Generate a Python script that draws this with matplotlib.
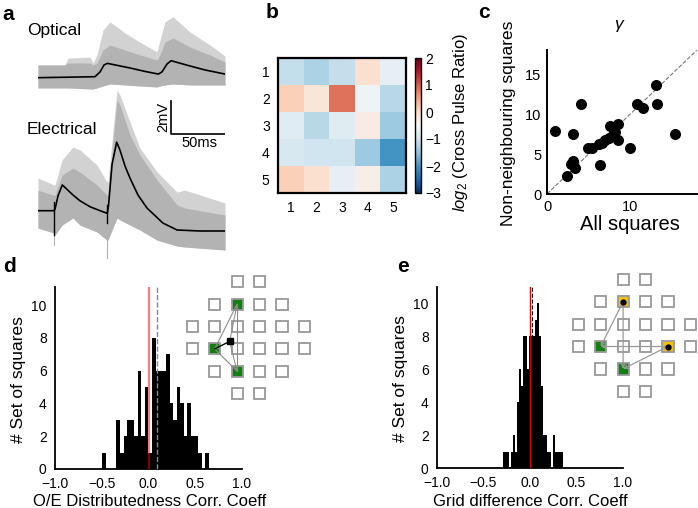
import numpy as np
import matplotlib
matplotlib.use('Agg')
import matplotlib.pyplot as plt
from matplotlib.patches import Rectangle
from matplotlib.ticker import FuncFormatter

plt.rcParams['font.family'] = ['Liberation Sans', 'DejaVu Sans']
plt.rcParams['mathtext.fontset'] = 'custom'
plt.rcParams['mathtext.rm'] = 'Liberation Sans'
plt.rcParams['mathtext.it'] = 'Liberation Sans:italic'

# ---------------- data ----------------
# panel a: optical traces (time in ms, voltage in mV relative to baseline)
opt_env_t = [0, 24.5, 27.3, 47.3, 50, 53.6, 59.1, 65.5, 79.1, 92.7, 108.2, 110.9, 115.4, 122.7, 138.2, 156.4, 170]
opt_hi = [0.77, 0.77, 1.19, 1.25, 0.89, 1.38, 2.89, 3.38, 2.71, 2.16, 1.56, 2.28, 3.38, 3.69, 2.77, 1.98, 1.32]
opt_core = [0.77, 0.77, 0.89, 0.89, 0.77, 0.89, 1.68, 1.98, 1.68, 1.38, 1.07, 1.38, 2.16, 2.41, 1.86, 1.38, 0.95]
opt_lo = [-0.62, -0.62, -0.62, -0.68, -0.68, -0.62, -0.5, -0.38, -0.44, -0.5, -0.56, -0.5, -0.44, -0.38, -0.44, -0.44, -0.44]
opt_mean_t = [0, 51.8, 56.4, 60.0, 63.0, 83.6, 97.3, 109.4, 112.7, 117.3, 121.0, 138.2, 151.8, 170]
opt_mean = [0.0, 0.06, 0.35, 0.77, 0.87, 0.59, 0.38, 0.22, 0.35, 0.83, 1.03, 0.71, 0.47, 0.22]

# panel a: electrical traces
ele_env_t = [0, 14.5, 15.5, 21.8, 31.8, 38.2, 53.6, 62.7, 63.6, 71.8, 74.5, 83.6, 92.7, 108.2, 126.4, 133.6, 170]
ele_hi = [1.98, 1.56, 1.56, 3.07, 3.86, 3.68, 2.77, 1.74, 1.74, 7.31, 7.01, 5.38, 3.80, 2.35, 1.13, 1.25, 0.47]
ele_core = [1.24, 0.94, 0.94, 2.16, 2.58, 2.34, 1.56, 0.94, 0.94, 6.71, 6.40, 4.59, 3.38, 1.86, 0.35, 0.16, -0.26]
ele_lo = [-1.05, -1.35, -1.47, -0.87, -0.44, -0.87, -1.29, -1.78, -1.78, -0.44, -0.56, -0.87, -1.17, -1.78, -2.14, -2.20, -2.38]
ele_mean_t = [0, 14.5, 15.5, 18.2, 22.1, 25.5, 31.8, 38.2, 47.3, 56.4, 63.0, 64.1, 67.3, 71.5, 74.5, 79.1, 83.6, 90.9, 99.1, 113.6, 126.4, 147.3, 170]
ele_mean = [0, 0, 0.1, 0.9, 1.56, 1.35, 0.95, 0.6, 0.24, 0.0, -0.16, 0.3, 2.8, 4.15, 3.68, 2.71, 1.98, 0.95, 0.16, -0.75, -1.17, -1.23, -1.23]
stim_t = [14.5, 63.0]
stim_black = [(0.55, -1.47), (0.35, -0.75)]
stim_gray = [(-1.47, -2.08), (-0.75, -2.87)]

# panel b: log2 cross pulse ratio (rows 1-5, cols 1-5)
ratio = np.array([
    [-1.1, -1.3, -1.1, -0.1, -0.7],
    [0.1, -0.2, 0.85, -0.6, -1.2],
    [-0.8, -1.2, -0.8, -0.3, -1.4],
    [-0.9, -1.0, -1.0, -1.4, -2.0],
    [0.1, -0.1, -0.7, -0.35, -1.3],
])
grid_labels = ['1', '2', '3', '4', '5']

# panel c: gamma, all squares vs non-neighbouring squares
c_all = [1.0, 3.1, 4.1, 2.4, 3.1, 2.9, 3.4, 4.9, 5.4, 6.2, 6.3, 6.6, 7.0, 7.4, 7.6, 7.9, 8.2, 8.5, 8.5, 9.9, 10.8, 11.5, 13.2, 13.1, 15.3]
c_nonn = [7.9, 7.5, 11.2, 2.3, 4.1, 3.75, 3.3, 5.8, 5.7, 6.2, 3.6, 6.4, 6.7, 7.0, 8.5, 7.4, 7.8, 8.75, 6.7, 5.8, 11.2, 10.8, 11.2, 13.6, 7.5]

# panel d: histogram of O/E distributedness correlation coefficients
d_range = (-0.495, 0.645)
d_counts = [1, 0, 0, 0, 3, 1, 2, 3, 3, 2, 6, 2, 5, 1, 8, 6, 6, 6, 7, 4, 3, 5, 4, 2, 4, 2, 2, 1, 0, 1]
d_mean = 0.09

# panel e: histogram of grid difference correlation coefficients
e_range = (-0.295, 0.355)
e_counts = [1, 1, 1, 0, 1, 2, 1, 4, 6, 5, 8, 8, 6, 8, 8, 8, 9, 10, 8, 5, 2, 2, 1, 1, 0, 2, 1, 1, 1, 1]
e_mean = 0.018

hist_xticks = [-1.0, -0.5, 0.0, 0.5, 1.0]
hist_yticks = [0, 2, 4, 6, 8, 10]

# stimulation grid layout (row: first column, number of squares)
grid_rows = [(2, 2), (1, 4), (0, 6), (0, 6), (1, 4), (2, 2)]
d_green = [(1, 2), (3, 1), (4, 2)]
e_yellow = [(1, 2), (3, 4)]
e_green = [(3, 1), (4, 2)]

# ---------------- figure ----------------
W, H = 698, 508
fig = plt.figure(figsize=(W / 100, H / 100), dpi=100)


def px_axes(l, t, w, h):
    return fig.add_axes([l / W, 1 - (t + h) / H, w / W, h / H])


def ftext(x, y, s, **kw):
    return fig.text(x / W, 1 - y / H, s, **kw)


GRAY = '#b3b3b3'
LIGHT = '#d2d2d2'

# ---- panel a ----
axa = px_axes(38, 10, 187, 250)
axa.set_xlim(0, 170)
axa.set_ylim(0, 250 * 2 / 33)
axa.axis('off')
off_o = (260 - 77.7) * 2 / 33
off_e = (260 - 210.7) * 2 / 33
axa.fill_between(opt_env_t, np.array(opt_lo) + off_o, np.array(opt_hi) + off_o,
                 color=LIGHT, lw=0)
axa.fill_between(opt_env_t, np.array(opt_lo) + off_o, np.array(opt_core) + off_o,
                 color=GRAY, lw=0)
axa.plot(opt_mean_t, np.array(opt_mean) + off_o, color='k', lw=1.2)
axa.fill_between(ele_env_t, np.array(ele_lo) + off_e, np.array(ele_hi) + off_e,
                 color=LIGHT, lw=0)
axa.fill_between(ele_env_t, np.array(ele_lo) + off_e, np.array(ele_core) + off_e,
                 color=GRAY, lw=0)
for t, (b0, b1), (g0, g1) in zip(stim_t, stim_black, stim_gray):
    axa.plot([t, t], [g0 + off_e, g1 + off_e], color=GRAY, lw=0.8)
    axa.plot([t, t], [b0 + off_e, b1 + off_e], color='k', lw=1.0)
axa.plot(ele_mean_t, np.array(ele_mean) + off_e, color='k', lw=1.2)
# scale bar
sb_x0 = (170.7 - 38) * 50 / 55
sb_y0 = (260 - 134) * 2 / 33
axa.plot([sb_x0, sb_x0, sb_x0 + 50], [sb_y0 + 2, sb_y0, sb_y0], color='k', lw=1.2)
ftext(163, 117, '2mV', rotation=90, ha='center', va='center', fontsize=10.5)
ftext(199, 143, '50ms', ha='center', va='center', fontsize=10.5)
ftext(27, 31, 'Optical', ha='left', va='center', fontsize=12.5)
ftext(27, 129, 'Electrical', ha='left', va='center', fontsize=12.5)

# ---- panel b ----
axb = px_axes(278, 58, 128, 135)
im = axb.imshow(ratio, cmap='RdBu_r', vmin=-3, vmax=2, aspect='auto',
                interpolation='nearest')
axb.set_xticks(range(5))
axb.set_xticklabels(grid_labels)
axb.set_yticks(range(5))
axb.set_yticklabels(grid_labels)
axb.tick_params(length=0, labelsize=10, pad=6)
for s in axb.spines.values():
    s.set_linewidth(1.6)
cax = px_axes(415, 58, 6, 135)
cb = fig.colorbar(im, cax=cax, ticks=[2, 1, 0, -1, -2, -3])
cb.outline.set_linewidth(1.0)
cax.tick_params(length=0, labelsize=10, pad=3)
ftext(460, 123, r'$\it{log}_2$ (Cross Pulse Ratio)', rotation=90,
      ha='center', va='center', fontsize=12)

# ---- panel c ----
axc = px_axes(547, 50, 150, 144)
axc.plot([0, 18], [0, 18], ls='--', color='#777777', lw=0.8, zorder=1)
axc.scatter(c_all, c_nonn, s=48, color='k', zorder=3, clip_on=False)
axc.set_xlim(0, 18)
axc.set_ylim(0, 18)
axc.set_xticks([0, 10])
axc.set_yticks([0, 5, 10, 15])
axc.tick_params(length=0, labelsize=10.5, pad=4)
for side in ['top', 'right']:
    axc.spines[side].set_visible(False)
for side in ['left', 'bottom']:
    axc.spines[side].set_linewidth(1.4)
ftext(618, 25, 'γ', ha='center', va='center', fontsize=12.5, style='italic')
ftext(630, 224, 'All squares', ha='center', va='center', fontsize=14.5)
ftext(509, 123, 'Non-neighbouring squares', rotation=90, ha='center', va='center', fontsize=12.5)

minus_fmt = FuncFormatter(lambda v, p: ('%.1f' % v).replace('-', '\u2212'))


# ---- histograms ----
def hist_axes(l, t, w, h, rng, counts, ymax):
    ax = px_axes(l, t, w, h)
    edges = np.linspace(rng[0], rng[1], len(counts) + 1)
    ax.bar(edges[:-1], counts, width=edges[1] - edges[0], align='edge',
           color='k', lw=0, zorder=2)
    ax.set_xlim(-1, 1)
    ax.set_ylim(0, ymax)
    ax.set_xticks(hist_xticks)
    ax.set_yticks(hist_yticks)
    ax.xaxis.set_major_formatter(minus_fmt)
    ax.tick_params(length=0, labelsize=10)
    ax.tick_params(axis='y', pad=6)
    ax.tick_params(axis='x', pad=6)
    for side in ['top', 'right']:
        ax.spines[side].set_visible(False)
    for side in ['left', 'bottom']:
        ax.spines[side].set_linewidth(1.3)
    return ax


axd = hist_axes(55, 287, 187, 182, d_range, d_counts, 11.1)
axd.axvline(0, color='red', alpha=0.5, lw=1.6, zorder=3)
axd.axvline(d_mean, color='#888888', ls='--', lw=1.0, zorder=3)
ftext(19, 380, '# Set of squares', rotation=90, ha='center', va='center', fontsize=12.5)
ftext(150, 501, 'O/E Distributedness Corr. Coeff', ha='center', va='center', fontsize=12)

axe = hist_axes(437, 287, 186, 181, e_range, e_counts, 11.0)
axe.axvline(0, color='#dd0000', lw=1.0, zorder=3)
axe.axvline(e_mean, color='k', ls='--', lw=0.8, zorder=1)
ftext(401, 379, '# Set of squares', rotation=90, ha='center', va='center', fontsize=12.5)
ftext(530, 501, 'Grid difference Corr. Coeff', ha='center', va='center', fontsize=12)


# ---- grid insets ----
def grid_axes(cx0, cy0):
    sp = 22.4
    ax = px_axes(cx0 - sp / 2, cy0 - sp / 2, 6 * sp, 6 * sp)
    ax.set_xlim(-0.5, 5.5)
    ax.set_ylim(5.5, -0.5)
    ax.axis('off')
    return ax


def draw_square(ax, r, c, face):
    sz = 0.5
    ax.add_patch(Rectangle((c - sz / 2, r - sz / 2), sz, sz, facecolor=face,
                           edgecolor='#999999', lw=1.3, zorder=2))


GREEN = '#137f13'
YELLOW = '#f2c20f'

gd = grid_axes(192.3, 281.7)
for r, (c0, n) in enumerate(grid_rows):
    for c in range(c0, c0 + n):
        face = GREEN if (r, c) in d_green else 'white'
        draw_square(gd, r, c, face)
pts = [(c, r) for r, c in d_green]
cen = (np.mean([p[0] for p in pts]), np.mean([p[1] for p in pts]))
for i in range(3):
    a, b = pts[i], pts[(i + 1) % 3]
    gd.plot([a[0], b[0]], [a[1], b[1]], color='#8a8a8a', lw=0.8, zorder=3)
for p in pts:
    gd.annotate('', xy=p, xytext=cen,
                arrowprops=dict(arrowstyle='->', color='#8a8a8a', lw=0.7,
                                shrinkA=0, shrinkB=0, mutation_scale=6), zorder=3)
gd.plot([pts[1][0], cen[0]], [pts[1][1], cen[1]], color='k', lw=0.9, zorder=4)
gd.plot([cen[0]], [cen[1]], marker='s', ms=4, color='k', zorder=5)

ge = grid_axes(578.3, 279.3)
for r, (c0, n) in enumerate(grid_rows):
    for c in range(c0, c0 + n):
        if (r, c) in e_yellow:
            face = YELLOW
        elif (r, c) in e_green:
            face = GREEN
        else:
            face = 'white'
        draw_square(ge, r, c, face)
for (yr, yc) in e_yellow:
    for (gr, gc) in e_green:
        ge.annotate('', xy=(gc, gr), xytext=(yc, yr),
                    arrowprops=dict(arrowstyle='->', color='#999999', lw=0.9,
                                    shrinkA=0, shrinkB=0, mutation_scale=6), zorder=3)
    ge.plot([yc], [yr], marker='o', ms=3.5, color='k', zorder=5)

# ---- panel letters ----
for lab, x, y in [('a', 8, 14), ('b', 272, 12), ('c', 484, 13), ('d', 10, 266), ('e', 403, 266)]:
    ftext(x, y, lab, ha='center', va='center', fontsize=15, fontweight='bold')

fig.savefig('out.png', dpi=100)
